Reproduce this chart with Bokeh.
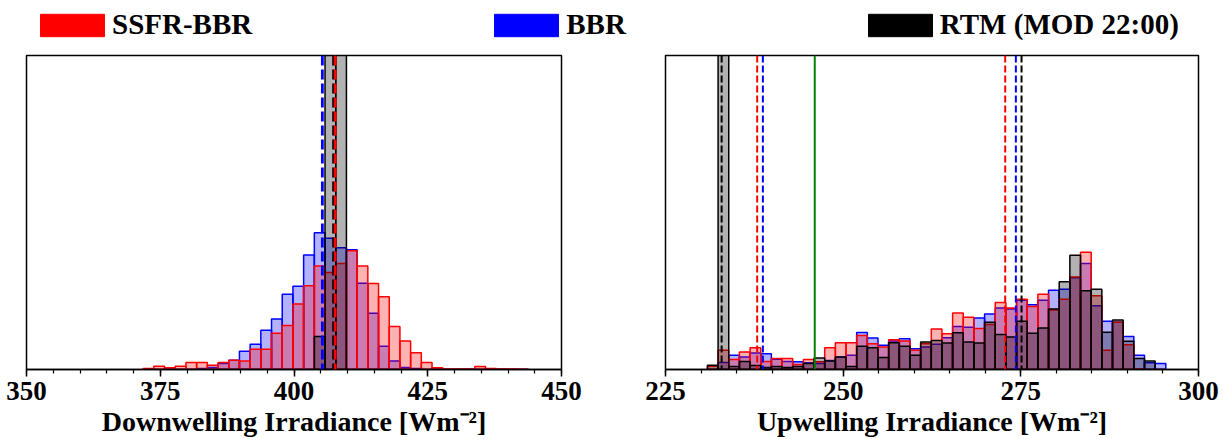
import numpy as np
from bokeh.plotting import figure
from bokeh.models import Range1d, FixedTicker, Span, Legend, LegendItem, ColumnDataSource
from bokeh.layouts import column, row
from bokeh.embed import file_html
from bokeh.resources import INLINE

# ---------------- data ----------------
series_names = ["SSFR-BBR", "BBR", "RTM (MOD 22:00)"]
series_colors = ["red", "blue", "black"]

# Downwelling histograms (bin start, width, heights in relative units)
down_bin_start = 371.8
down_bin_width = 2.0
down_ssfr = [1, 3.4, 1.7, 3.4, 7, 7, 4.3, 7, 9.4, 8.5, 20.4, 20.4, 36.7, 44.4, 66, 84.5,
             104.5, 98, 107, 120, 104.4, 86.7, 73.4, 43.4, 28.7, 17, 7, 1.7, 0.5, 0.5,
             0.5, 3, 1, 0.5, 0.5, 0.3]
down_bbr = [0, 0, 0, 0, 0, 1, 2, 6, 9.4, 18.4, 25.4, 39.5, 51, 76, 84, 115.5,
            138, 132.5, 123, 121, 87, 56.7, 23.4, 8.7, 2, 1, 0, 0, 0, 0,
            0, 0, 0, 0, 0, 0]
down_rtm = [0] * 16 + [33.4, 650, 560] + [0] * 17
down_mean_ssfr = 407.7
down_mean_bbr = 405.3
down_mean_rtm = 407.4

# Upwelling histograms
up_bin_start = 230.9
up_bin_width = 1.5
up_ssfr = [3.4, 19.4, 10, 17.7, 22, 8, 11, 11, 5, 10, 7.7, 22, 27, 27, 34.4, 26, 22.7,
           30, 28.7, 19.4, 26, 41, 36, 57, 52.7, 41.4, 45.4, 67.7, 62, 71, 63.7, 76,
           60, 71, 93.4, 118.4, 74.4, 19.4, 47.7, 25, 0.5, 0, 0]
up_bbr = [0, 7, 14.4, 12.7, 16.7, 16, 10.4, 8, 7.7, 6.7, 6, 9, 12.7, 14.4, 37.4, 31.7,
          24.4, 28.7, 31, 21, 22.7, 25.4, 32, 43.4, 42.7, 52, 56, 62, 61, 70, 65.4, 70,
          80, 81, 92.7, 107, 64.4, 48.7, 47.7, 33.4, 14.4, 6.7, 6]
up_rtm = [4.4, 650, 3, 8, 4, 2, 3, 2, 3, 6, 11.7, 8.7, 12.7, 3, 23.4, 22, 12, 27, 23.4,
          14.4, 27.7, 29.4, 26.7, 37, 27.7, 26.7, 47.7, 35.4, 32.7, 48.7, 36.7, 42, 61,
          88.7, 115.4, 79.4, 81, 37.7, 50, 28.4, 11, 8.7, 0]
up_lines_ssfr = [237.9, 272.8]
up_lines_bbr = [238.7, 274.3]
up_lines_rtm = [232.9, 275.1]
up_line_green = 246.0

down_ticks = [350, 375, 400, 425, 450]
up_ticks = [225, 250, 275, 300]

FONT = "Liberation Serif"


def make_panel(x_lo, x_hi, ticks, minor_step, bin_start, bin_width, series, label,
               width, left_border, right_border, height, top_border, bottom_border):
    p = figure(width=width, height=height, x_range=Range1d(x_lo, x_hi),
               y_range=Range1d(0, 317), toolbar_location=None, output_backend="svg",
               y_axis_location=None, min_border_left=left_border,
               min_border_right=right_border, min_border_top=top_border,
               min_border_bottom=bottom_border)
    p.grid.visible = False
    p.outline_line_color = "black"
    p.outline_line_width = 1.5
    p.outline_line_alpha = 1.0
    # draw order: blue, red, black
    order = [1, 0, 2]
    for i in order:
        vals = np.asarray(series[i], dtype=float)
        edges = bin_start + bin_width * np.arange(len(vals))
        src = ColumnDataSource(dict(left=edges, right=edges + bin_width,
                                    top=vals, bottom=np.zeros_like(vals)))
        p.quad(left="left", right="right", top="top", bottom="bottom", source=src,
               fill_color=series_colors[i], fill_alpha=0.3,
               line_color=series_colors[i], line_width=1.5)
    minor = list(np.arange(x_lo, x_hi + 0.01, minor_step))
    p.xaxis.ticker = FixedTicker(ticks=ticks, minor_ticks=minor)
    ax = p.xaxis[0]
    ax.axis_label = label
    ax.axis_label_text_font = FONT
    ax.axis_label_text_font_style = "bold"
    ax.axis_label_text_font_size = "28px"
    ax.axis_label_text_color = "black"
    ax.axis_label_standoff = 3
    ax.major_label_text_font = FONT
    ax.major_label_text_font_style = "bold"
    ax.major_label_text_font_size = "27px"
    ax.major_label_text_color = "black"
    ax.major_label_standoff = 5
    ax.major_tick_in = 0
    ax.major_tick_out = 7
    ax.minor_tick_in = 0
    ax.minor_tick_out = 4
    ax.major_tick_line_width = 1.5
    ax.minor_tick_line_width = 1.2
    ax.axis_line_width = 1.5
    return p


H = 395
TOP = 11
BOT = 67

p1 = make_panel(350, 450, down_ticks, 5, down_bin_start, down_bin_width,
                [down_ssfr, down_bbr, down_rtm], "Downwelling Irradiance [Wm\u207b\u00b2]",
                width=613, left_border=26, right_border=52, height=H,
                top_border=TOP, bottom_border=BOT)
for loc, c in [(down_mean_bbr, "blue"), (down_mean_rtm, "black"), (down_mean_ssfr, "red")]:
    p1.add_layout(Span(location=loc, dimension="height", line_color=c,
                       line_dash="10 4", line_width=2.8))

p2 = make_panel(225, 300, up_ticks, 5, up_bin_start, up_bin_width,
                [up_ssfr, up_bbr, up_rtm], "Upwelling Irradiance [Wm\u207b\u00b2]",
                width=610, left_border=52, right_border=25, height=H,
                top_border=TOP, bottom_border=BOT)
p2.add_layout(Span(location=up_line_green, dimension="height", line_color="green",
                   line_width=2))
for locs, c in [(up_lines_rtm, "black"), (up_lines_ssfr, "red"), (up_lines_bbr, "blue")]:
    for loc in locs:
        p2.add_layout(Span(location=loc, dimension="height", line_color=c,
                           line_dash="7 3", line_width=2))

# legend strip (legend renderers hold a dummy rectangle outside the visible range)
leg = figure(width=1223, height=44, x_range=Range1d(0, 1), y_range=Range1d(0, 1),
             toolbar_location=None, output_backend="svg", min_border=0,
             x_axis_location=None, y_axis_location=None)
leg.grid.visible = False
leg.outline_line_color = None
items = []
for name, c in zip(series_names, series_colors):
    r = leg.quad(left=[5], right=[6], top=[6], bottom=[5], fill_color=c, line_color=c)
    items.append(LegendItem(label=name, renderers=[r]))
legend = Legend(items=items, orientation="horizontal", location=(32, 3),
                glyph_width=80, glyph_height=28, label_standoff=0, spacing=234,
                label_text_font=FONT, label_text_font_style="bold",
                label_text_font_size="29px", label_text_color="black",
                padding=0, margin=0, border_line_alpha=0, background_fill_alpha=0)
leg.add_layout(legend)

layout = column(leg, row(p1, p2))
open("out.html", "w").write(file_html(layout, INLINE))
